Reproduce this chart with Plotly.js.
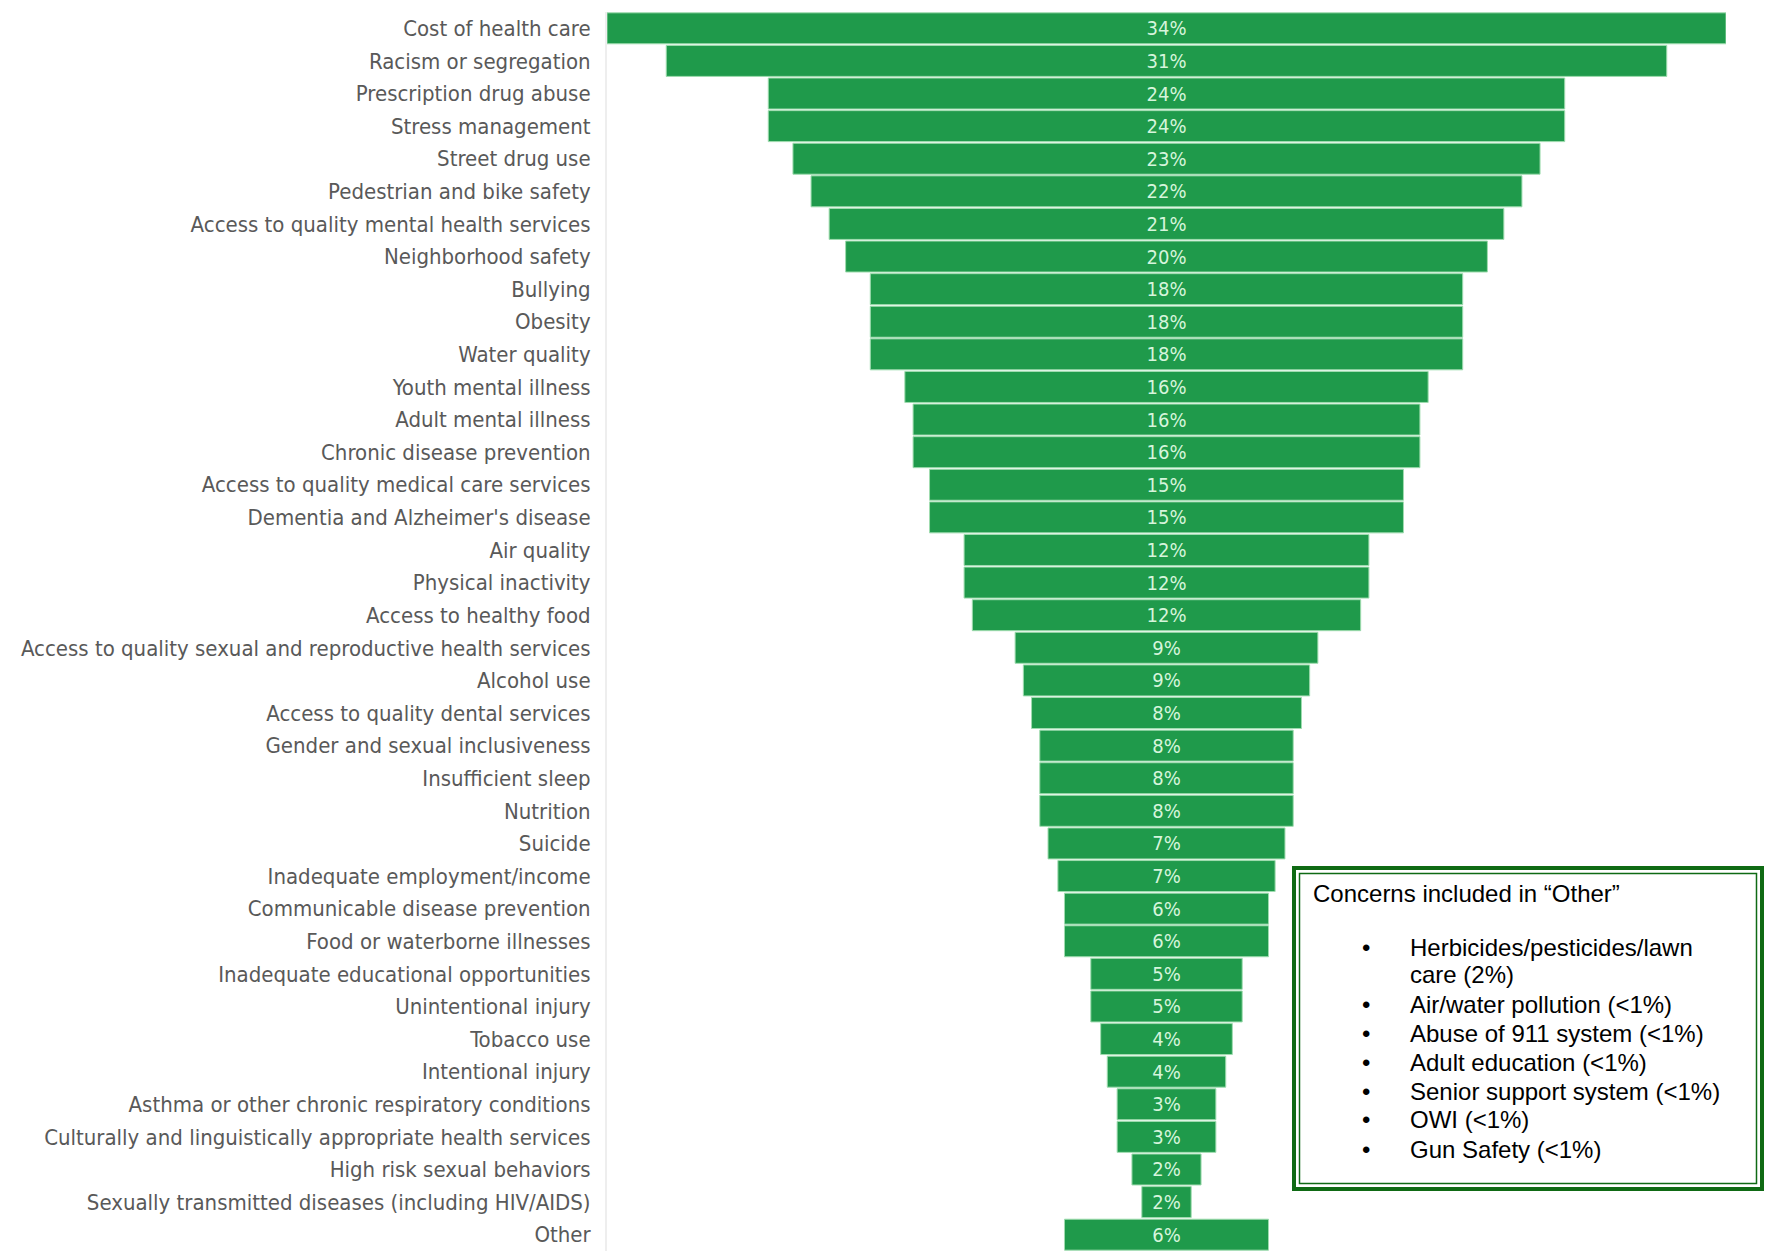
<!DOCTYPE html>
<html>
<head>
<meta charset="utf-8">
<script src="https://cdn.plot.ly/plotly-3.0.1.min.js"></script>
<style>html,body{margin:0;padding:0;background:#fff;}#chart{width:1766px;height:1251px;}</style>
</head>
<body>
<div id="chart"></div>
<script>
// ---- data ----
const categories = [
  "Cost of health care","Racism or segregation","Prescription drug abuse","Stress management",
  "Street drug use","Pedestrian and bike safety","Access to quality mental health services",
  "Neighborhood safety","Bullying","Obesity","Water quality","Youth mental illness",
  "Adult mental illness","Chronic disease prevention","Access to quality medical care services",
  "Dementia and Alzheimer's disease","Air quality","Physical inactivity","Access to healthy food",
  "Access to quality sexual and reproductive health services","Alcohol use",
  "Access to quality dental services","Gender and sexual inclusiveness","Insufficient sleep",
  "Nutrition","Suicide","Inadequate employment/income","Communicable disease prevention",
  "Food or waterborne illnesses","Inadequate educational opportunities","Unintentional injury",
  "Tobacco use","Intentional injury","Asthma or other chronic respiratory conditions",
  "Culturally and linguistically appropriate health services","High risk sexual behaviors",
  "Sexually transmitted diseases (including HIV/AIDS)","Other"
];
const values = [
  34.0, 30.4, 24.2, 24.2, 22.7, 21.6, 20.5, 19.5, 18.0, 18.0, 18.0, 15.9,
  15.4, 15.4, 14.4, 14.4, 12.3, 12.3, 11.8, 9.2, 8.7, 8.2, 7.7, 7.7,
  7.7, 7.2, 6.6, 6.2, 6.2, 4.6, 4.6, 4.0, 3.6, 3.0, 3.0, 2.1, 1.5, 6.2
];
const valueLabels = [
  "34%","31%","24%","24%","23%","22%","21%","20%","18%","18%","18%","16%",
  "16%","16%","15%","15%","12%","12%","12%","9%","9%","8%","8%","8%",
  "8%","7%","7%","6%","6%","5%","5%","4%","4%","3%","3%","2%","2%","6%"
];
const boxTitle = "Concerns included in \u201cOther\u201d";
const otherItems = [
  ["Herbicides/pesticides/lawn", "care (2%)"],
  ["Air/water pollution (<1%)"],
  ["Abuse of 911 system (<1%)"],
  ["Adult education (<1%)"],
  ["Senior support system (<1%)"],
  ["OWI (<1%)"],
  ["Gun Safety (<1%)"]
];

// ---- layout helpers (pixel -> paper) ----
const W = 1766, H = 1251;
const M = {l: 607, r: 40, t: 12, b: 0};
const pw = W - M.l - M.r, ph = H - M.t - M.b;
const px = x => (x - M.l) / pw;
const py = y => (H - M.b - y) / ph;

const green = '#1f9a4b';
const boxGreen = '#0f6a14';
const boxFont = {family: '"Liberation Sans", Arial, sans-serif', size: 24, color: '#000'};

const trace = {
  type: 'funnel',
  y: categories,
  x: values,
  text: valueLabels,
  textinfo: 'text',
  textposition: 'inside',
  insidetextanchor: 'middle',
  textangle: 0,
  constraintext: 'none',
  textfont: {family: '"Liberation Sans Narrow", "DejaVu Sans Condensed", sans-serif', size: 20, color: '#d6f5dc'},
  marker: {color: green, line: {color: '#9fdcaf', width: 1}},
  connector: {visible: false},
  hoverinfo: 'none'
};

const annotations = [];
annotations.push({
  xref: 'paper', yref: 'paper', x: px(1311), y: py(893), xanchor: 'left', yanchor: 'middle',
  text: boxTitle, showarrow: false, align: 'left', font: boxFont
});
const itemY = [947, 1004, 1033, 1062, 1091, 1119, 1149];
const wrapStep = 27;
otherItems.forEach((lines, i) => {
  annotations.push({
    xref: 'paper', yref: 'paper', x: px(1366), y: py(itemY[i]), xanchor: 'center', yanchor: 'middle',
    text: '\u2022', showarrow: false, font: boxFont
  });
  lines.forEach((t, j) => {
    annotations.push({
      xref: 'paper', yref: 'paper', x: px(1408), y: py(itemY[i] + j * wrapStep), xanchor: 'left', yanchor: 'middle',
      text: t, showarrow: false, align: 'left', font: boxFont
    });
  });
});

const shapes = [
  {type: 'rect', xref: 'paper', yref: 'paper', x0: px(1294), x1: px(1762), y0: py(868), y1: py(1189),
   line: {color: boxGreen, width: 4}, fillcolor: '#ffffff', layer: 'above'},
  {type: 'rect', xref: 'paper', yref: 'paper', x0: px(1299.5), x1: px(1756.5), y0: py(873.5), y1: py(1183.5),
   line: {color: boxGreen, width: 1.5}, fillcolor: 'rgba(0,0,0,0)', layer: 'above'}
];

const layout = {
  width: W, height: H,
  margin: M,
  paper_bgcolor: '#fff', plot_bgcolor: '#fff',
  showlegend: false,
  funnelgap: 0.05,
  xaxis: {range: [-17, 17], visible: false, fixedrange: true},
  yaxis: {
    type: 'category', autorange: 'reversed',
    showline: true, linecolor: '#eeeeee', linewidth: 2,
    ticks: '', ticklabelstandoff: 10, showgrid: false, zeroline: false,
    tickfont: {family: '"Liberation Sans Narrow", "DejaVu Sans Condensed", sans-serif', size: 22, color: '#595959'}
  },
  shapes: shapes,
  annotations: annotations
};

Plotly.newPlot('chart', [trace], layout, {displayModeBar: false, staticPlot: true});
</script>
</body>
</html>
